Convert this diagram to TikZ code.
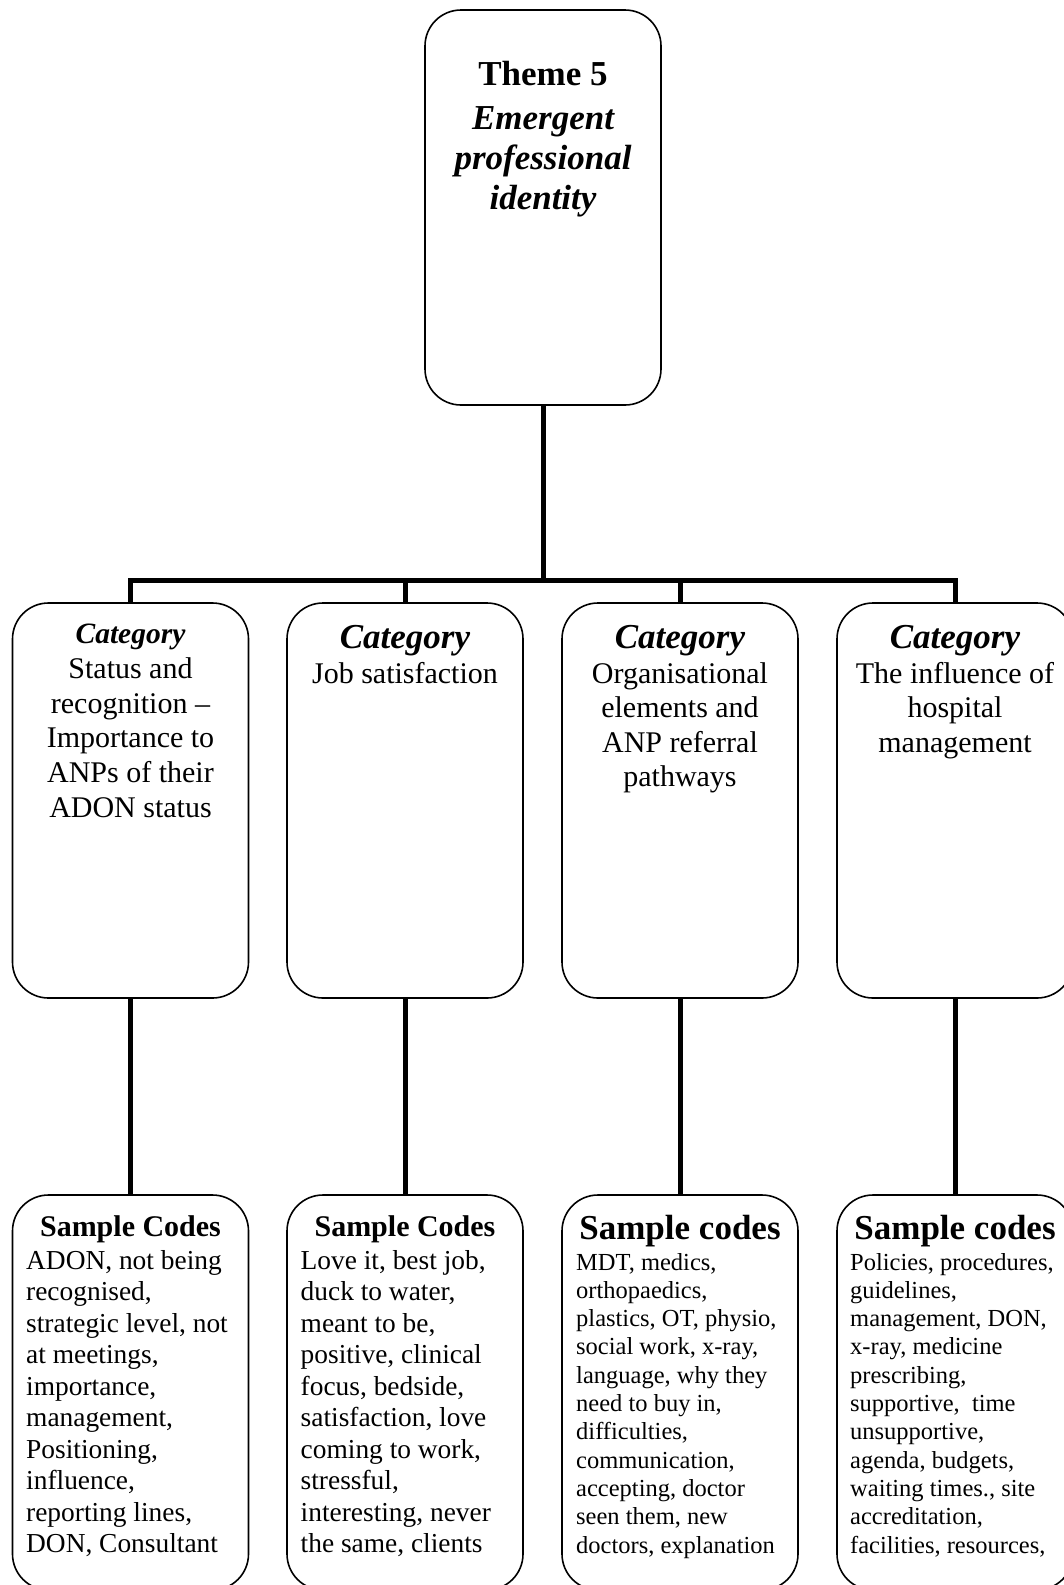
\documentclass[tikz,border=0pt]{standalone}
\usepackage{fontspec}
\setmainfont{Liberation Serif}
\begin{document}
\begin{tikzpicture}[x=1pt,y=-1pt,
  box/.style={draw, line width=1.6pt, rounded corners=36pt, minimum width=236pt, minimum height=395pt, inner sep=0pt},
  conn/.style={line width=5pt},
  txt/.style={inner sep=0pt}]
\useasboundingbox (0,0) rectangle (1064,1585);
\clip (0,0) rectangle (1064,1585);

% boxes
\node[box] (theme) at (543,207.5) {};
\node[box] (cat1) at (130.5,800.5) {};
\node[box] (cat2) at (405,800.5) {};
\node[box] (cat3) at (680,800.5) {};
\node[box] (cat4) at (955,800.5) {};
\node[box] (code1) at (130.5,1392.5) {};
\node[box] (code2) at (405,1392.5) {};
\node[box] (code3) at (680,1392.5) {};
\node[box] (code4) at (955,1392.5) {};

% connectors
\coordinate (bus) at (543,580);
\draw[conn] (theme.south) -- (bus);
\draw[conn] (cat1.north) |- (bus) -| (cat4.north);
\draw[conn] (cat2.north) -- (cat2.north |- bus);
\draw[conn] (cat3.north) -- (cat3.north |- bus);
\draw[conn] (cat1.south) -- (code1.north);
\draw[conn] (cat2.south) -- (code2.north);
\draw[conn] (cat3.south) -- (code3.north);
\draw[conn] (cat4.south) -- (code4.north);

% theme text
\node[txt, anchor=base] (themeh) at (543,85) {\fontsize{35}{40}\selectfont\bfseries Theme 5};
\node[txt, anchor=base] (themeb) at (543,129) {\fontsize{35}{40}\selectfont\bfseries\itshape
  \begin{tabular}[t]{@{}c@{}}Emergent\\ professional\\ identity\end{tabular}};

% category texts
\node[txt, anchor=base] (cat1h) at (130.5,643.5) {\fontsize{29.5}{34}\selectfont\bfseries\itshape Category};
\node[txt, anchor=base] (cat1b) at (130.5,678.5) {\fontsize{30}{34.7}\selectfont
  \begin{tabular}[t]{@{}c@{}}Status and\\ recognition –\\ Importance to\\ ANPs of their\\ ADON status\end{tabular}};

\node[txt, anchor=base] (cat2h) at (405,648.5) {\fontsize{35}{40}\selectfont\bfseries\itshape Category};
\node[txt, anchor=base] (cat2b) at (405,683) {\fontsize{30}{34.5}\selectfont Job satisfaction};

\node[txt, anchor=base] (cat3h) at (680,648.5) {\fontsize{35}{40}\selectfont\bfseries\itshape Category};
\node[txt, anchor=base] (cat3b) at (680,683) {\fontsize{30}{34.5}\selectfont
  \begin{tabular}[t]{@{}c@{}}Organisational\\ elements and\\ ANP referral\\ pathways\end{tabular}};

\node[txt, anchor=base] (cat4h) at (955,648.5) {\fontsize{35}{40}\selectfont\bfseries\itshape Category};
\node[txt, anchor=base] (cat4b) at (955,683) {\fontsize{30}{34.5}\selectfont
  \begin{tabular}[t]{@{}c@{}}The influence of\\ hospital\\ management\end{tabular}};

% sample code texts
\node[txt, anchor=base] (code1h) at (130.5,1236.5) {\fontsize{30}{34}\selectfont\bfseries Sample Codes};
\node[txt, anchor=base west] (code1b) at (26,1269) {\fontsize{27.4}{31.5}\selectfont
  \begin{tabular}[t]{@{}l@{}}ADON, not being\\ recognised,\\ strategic level, not\\ at meetings,\\ importance,\\ management,\\ Positioning,\\ influence,\\ reporting lines,\\ DON, Consultant\end{tabular}};

\node[txt, anchor=base] (code2h) at (405,1236.5) {\fontsize{30}{34}\selectfont\bfseries Sample Codes};
\node[txt, anchor=base west] (code2b) at (300.5,1269) {\fontsize{27.4}{31.5}\selectfont
  \begin{tabular}[t]{@{}l@{}}Love it, best job,\\ duck to water,\\ meant to be,\\ positive, clinical\\ focus, bedside,\\ satisfaction, love\\ coming to work,\\ stressful,\\ interesting, never\\ the same, clients\end{tabular}};

\node[txt, anchor=base] (code3h) at (680,1239.5) {\fontsize{35}{40}\selectfont\bfseries Sample codes};
\node[txt, anchor=base west] (code3b) at (576,1270) {\fontsize{24.5}{28.3}\selectfont
  \begin{tabular}[t]{@{}l@{}}MDT, medics,\\ orthopaedics,\\ plastics, OT, physio,\\ social work, x-ray,\\ language, why they\\ need to buy in,\\ difficulties,\\ communication,\\ accepting, doctor\\ seen them, new\\ doctors, explanation\end{tabular}};

\node[txt, anchor=base] (code4h) at (955,1239.5) {\fontsize{35}{40}\selectfont\bfseries Sample codes};
\node[txt, anchor=base west] (code4b) at (850,1270) {\fontsize{24.5}{28.3}\selectfont
  \begin{tabular}[t]{@{}l@{}}Policies, procedures,\\ guidelines,\\ management, DON,\\ x-ray, medicine\\ prescribing,\\ supportive,~ time\\ unsupportive,\\ agenda, budgets,\\ waiting times., site\\ accreditation,\\ facilities, resources,\end{tabular}};
\end{tikzpicture}
\end{document}
